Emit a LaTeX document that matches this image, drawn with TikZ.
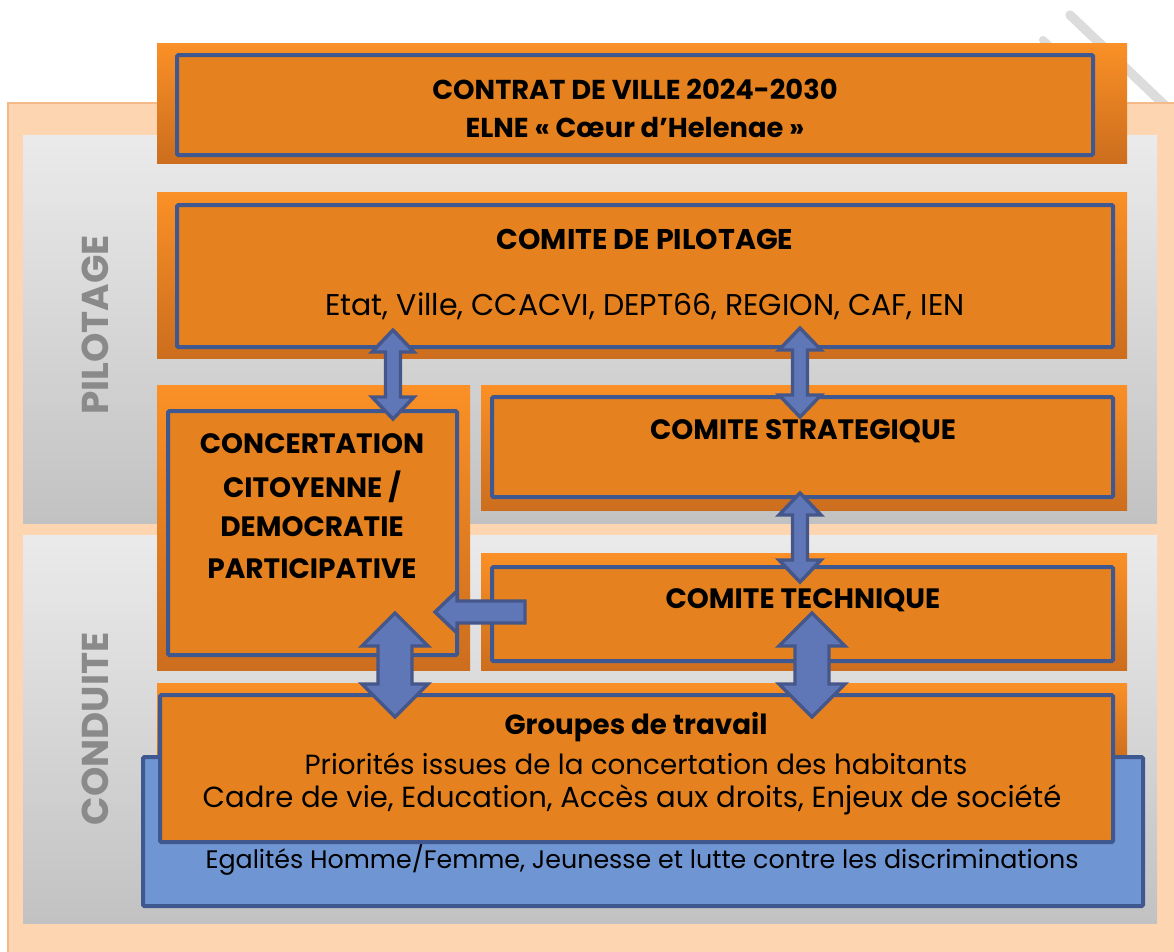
\documentclass[tikz,border=0pt]{standalone}
\usepackage{fontspec}
\setmainfont{Poppins}
\usetikzlibrary{calc}
\definecolor{peach}{HTML}{FDD6B1}
\definecolor{peachline}{HTML}{F5BA8A}
\definecolor{boxfill}{HTML}{E5821F}
\definecolor{boxline}{HTML}{3F5890}
\definecolor{arrfill}{HTML}{5F77B7}
\definecolor{arrline}{HTML}{45578A}
\definecolor{egalfill}{HTML}{6F95D3}
\definecolor{labelgray}{HTML}{8A8A8A}
\definecolor{wmark}{HTML}{DCDCDC}
\definecolor{outtop}{HTML}{FA9026}
\definecolor{outmid}{HTML}{F08A22}
\definecolor{outbot}{HTML}{CC6E1E}
\newcommand{\vdarrow}[5]{%
  \draw[arrowsty] let \p1=(#1), \p2=(#2) in
  (\x1,\y1) -- (\x1+#4*0.75pt,\y1-#5*0.75pt) -- (\x1+#3*0.75pt,\y1-#5*0.75pt)
  -- (\x1+#3*0.75pt,\y2+#5*0.75pt) -- (\x1+#4*0.75pt,\y2+#5*0.75pt) -- (\x1,\y2)
  -- (\x1-#4*0.75pt,\y2+#5*0.75pt) -- (\x1-#3*0.75pt,\y2+#5*0.75pt)
  -- (\x1-#3*0.75pt,\y1-#5*0.75pt) -- (\x1-#4*0.75pt,\y1-#5*0.75pt) -- cycle;}
\newcommand{\hlarrow}[5]{%
  \draw[arrowsty] let \p1=(#1), \p2=(#2) in
  (\x1,\y1) -- (\x1+#5*0.75pt,\y1+#4*0.75pt) -- (\x1+#5*0.75pt,\y1+#3*0.75pt)
  -- (\x2,\y1+#3*0.75pt) -- (\x2,\y1-#3*0.75pt) -- (\x1+#5*0.75pt,\y1-#3*0.75pt)
  -- (\x1+#5*0.75pt,\y1-#4*0.75pt) -- cycle;}
\begin{document}
\begin{tikzpicture}[x=0.75pt,y=-0.75pt,
  outerbox/.style={top color=outtop, middle color=outmid, bottom color=outbot},
  box/.style={draw=boxline, line width=3pt, fill=boxfill, rectangle, inner sep=0pt, rounded corners=1pt},
  arrowsty/.style={draw=arrline, fill=arrfill, line width=2.6pt, line join=miter},
  head/.style={font=\bfseries\fontsize{21}{24}\selectfont, inner sep=0pt},
  body/.style={font=\fontsize{21}{24}\selectfont, inner sep=0pt},
  side/.style={font=\bfseries\fontsize{28}{30}\selectfont, text=labelgray, rotate=90, inner sep=0pt}]
\useasboundingbox (0,0) rectangle (1174,951);
% watermark strokes
\draw[wmark, line width=7pt, line cap=round] (1070,15) -- (1175,115);
\draw[wmark, line width=6pt, line cap=round] (1043,40) -- (1110,104);
% peach background
\fill[peach] (8,103) rectangle (1180,956);
\draw[peachline, line width=1.5pt] (8,956) -- (8,103) -- (1180,103);
% panels
\shade[top color=black!8, bottom color=black!24] (23,135) rectangle (1157,523);
\shade[top color=black!8, bottom color=black!24] (23,535) rectangle (1157,923);
\node[side] (lpil) at (95,325) {PILOTAGE};
\node[side] (lcond) at (95,729) {CONDUITE};
% outer orange frames
\shade[outerbox] (157,43) rectangle (1127,163);
\shade[outerbox] (157,192) rectangle (1127,358);
\shade[outerbox] (157,385) rectangle (470,670);
\shade[outerbox] (481,385) rectangle (1127,510);
\shade[outerbox] (481,553) rectangle (1127,670);
\shade[outerbox] (157,683) rectangle (1127,760);
% boxes
\node[box, minimum width=916*0.75pt, minimum height=100*0.75pt] (title) at (635,105) {};
\node[box, minimum width=936*0.75pt, minimum height=142*0.75pt] (pil) at (645,276) {};
\node[box, minimum width=289*0.75pt, minimum height=244*0.75pt] (conc) at (312.5,533) {};
\node[box, minimum width=621*0.75pt, minimum height=100*0.75pt] (strat) at (802.5,447) {};
\node[box, minimum width=621*0.75pt, minimum height=94*0.75pt] (tech) at (802.5,614) {};
\node[box, fill=egalfill, minimum width=1000*0.75pt, minimum height=149*0.75pt] (egal) at (643,831.5) {};
\node[box, minimum width=953*0.75pt, minimum height=147*0.75pt] (grp) at (636.5,768.5) {};
% texts
\node[head, font=\bfseries\fontsize{20.5}{24}\selectfont] (t1) at (635,89) {CONTRAT DE VILLE 2024-2030};
\node[head, font=\bfseries\fontsize{20.5}{24}\selectfont] (t2) at (635,127) {ELNE « Cœur d’Helenae »};
\node[head, font=\bfseries\fontsize{21.4}{24}\selectfont] (p1) at (645,239) {COMITE DE PILOTAGE};
\node[body, font=\fontsize{22.5}{24}\selectfont] (p2) at (645,306) {Etat, Ville, CCACVI, DEPT66, REGION, CAF, IEN};
\node[head] (c1) at (312,444) {CONCERTATION};
\node[head] (c2) at (312,487) {CITOYENNE /};
\node[head] (c3) at (312,527) {DEMOCRATIE};
\node[head] (c4) at (312,569) {PARTICIPATIVE};
\node[head] (s1) at (803,431) {COMITE STRATEGIQUE};
\node[head] (k1) at (803,600) {COMITE TECHNIQUE};
\node[head, font=\bfseries\fontsize{20.8}{24}\selectfont] (g1) at (636,727) {Groupes de travail};
\node[body, font=\fontsize{20.8}{24}\selectfont] (g2) at (636,764) {Priorités issues de la concertation des habitants};
\node[body, font=\fontsize{21.8}{24}\selectfont] (g3) at (632,800) {Cadre de vie, Education, Accès aux droits, Enjeux de société};
\node[body, font=\fontsize{19}{22}\selectfont] (e1) at (642,860) {Egalités Homme/Femme, Jeunesse et lutte contre les discriminations};
% arrows
\coordinate (a1t) at (393,330); \coordinate (a1b) at (393,419);
\coordinate (a2t) at (800,328); \coordinate (a2b) at (800,417);
\coordinate (a3t) at (800,493); \coordinate (a3b) at (800,582);
\coordinate (a4t) at (812,613); \coordinate (a4b) at (812,717);
\coordinate (a5t) at (395,613); \coordinate (a5b) at (395,717);
\coordinate (a6t) at (435,612); \coordinate (a6e) at (525,612);
\vdarrow{a1t}{a1b}{7.5}{21}{22}
\vdarrow{a2t}{a2b}{7.5}{21}{22}
\vdarrow{a3t}{a3b}{7.5}{21}{22}
\vdarrow{a4t}{a4b}{17}{33}{33}
\vdarrow{a5t}{a5b}{17}{33}{33}
\hlarrow{a6t}{a6e}{11}{21}{22}
\end{tikzpicture}
\end{document}
